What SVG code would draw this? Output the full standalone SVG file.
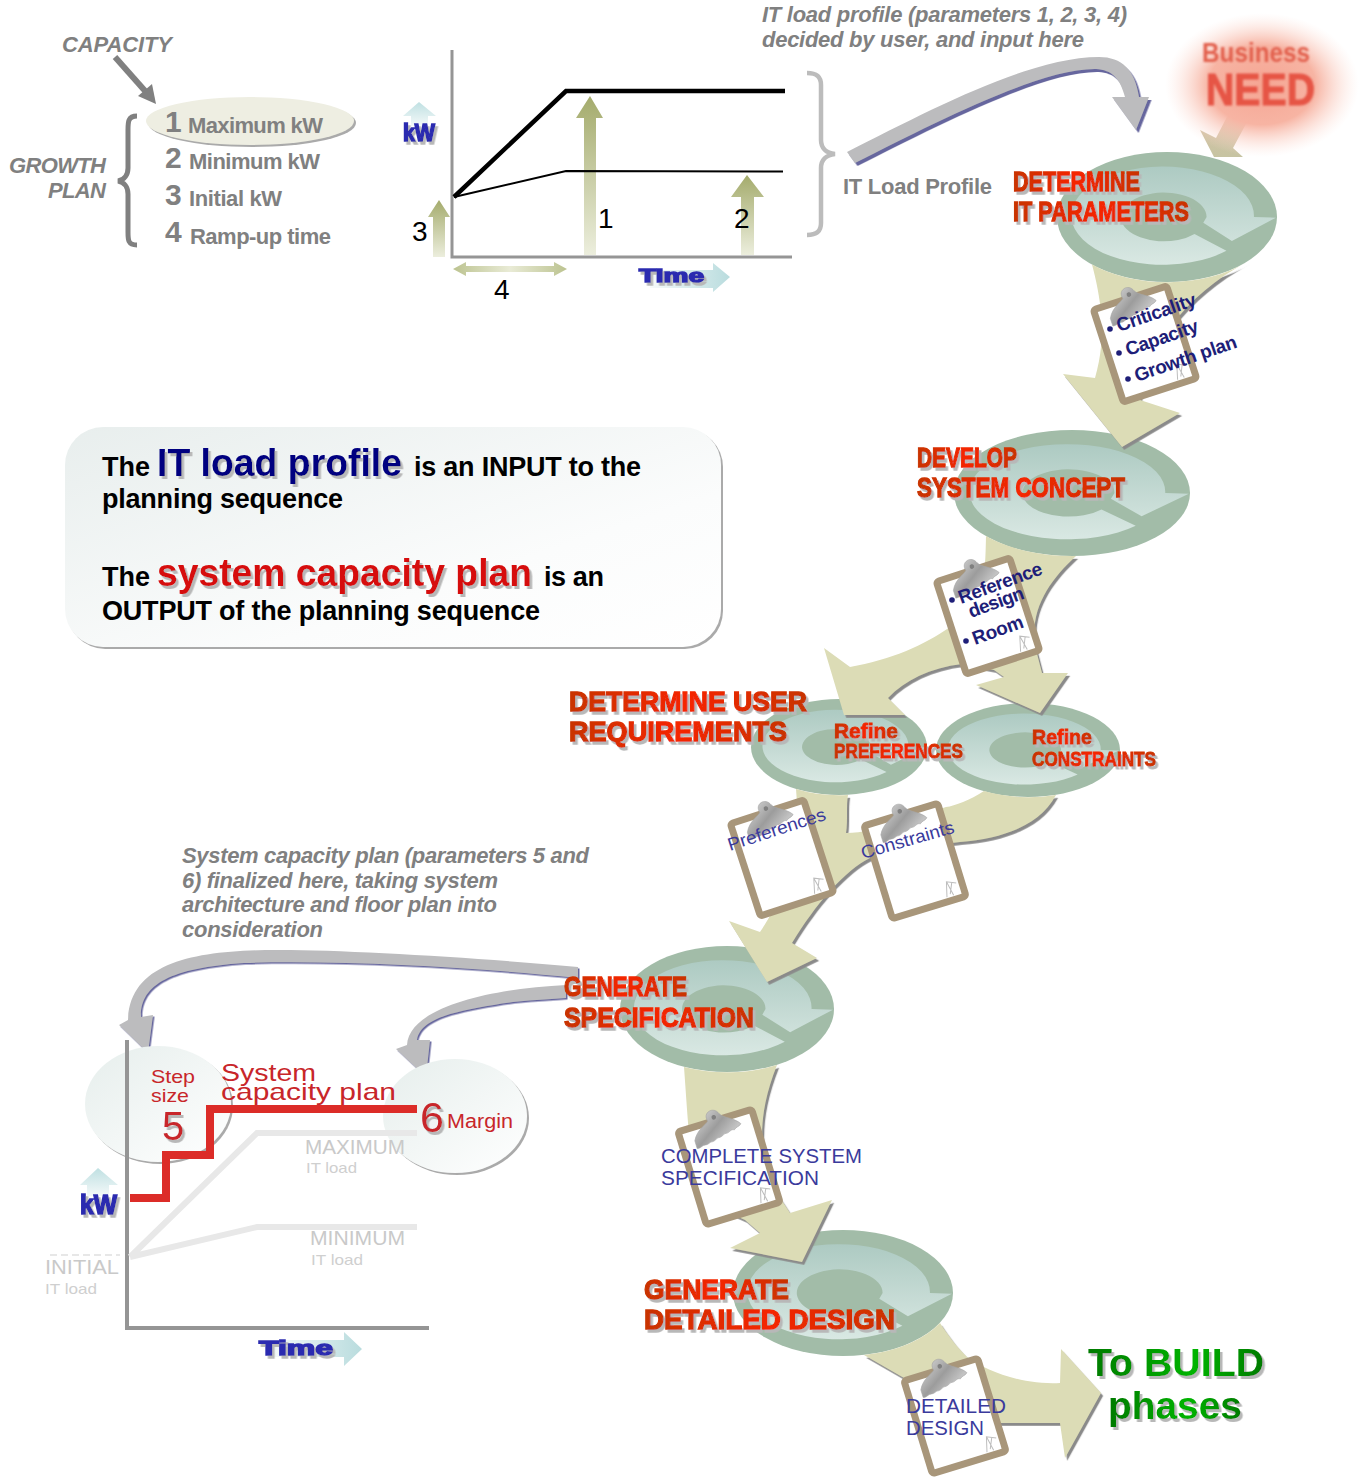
<svg xmlns="http://www.w3.org/2000/svg" width="1361" height="1477" viewBox="0 0 1361 1477">
<style>
text{font-family:"Liberation Sans",Arial,sans-serif}
.gi{font-weight:bold;font-style:italic;fill:#808080;font-size:22px}
.g{font-weight:bold;fill:#808080;font-size:22px}
.n{font-weight:bold;fill:#808080;font-size:30px}
.h{font-weight:bold;fill:url(#redT);stroke:url(#redT);stroke-width:1.300;font-size:28px;filter:url(#ts)}
.hs{font-size:19.500px;stroke-width:.9}
.nb{font-weight:bold;fill:#1e1e78;font-size:19px}
.bl{fill:#3a3a9c;font-size:20px}
.blk{font-weight:bold;fill:#000;font-size:27px}
.red{fill:#c8262a}
.lg{fill:#c9c9c9;font-size:21px}
.lgs{fill:#cfcfcf;font-size:15px}
.tan{fill:#dcdcb6;filter:url(#as)}
.gr{fill:#bcbcbe;filter:url(#bs)}
.heavy{font-weight:bold;fill:#2c2cb0;stroke:#2c2cb0;stroke-width:1.500;filter:url(#ts)}
</style>
<defs>
<linearGradient id="redT" x1="0" x2="1" y1="0" y2="0"><stop offset="0" stop-color="#c83400"/><stop offset=".5" stop-color="#f52500"/><stop offset="1" stop-color="#c83400"/></linearGradient>
<linearGradient id="ring" x1="0" x2="0" y1="0" y2="1"><stop offset="0" stop-color="#adcac2"/><stop offset="1" stop-color="#d9e8e3"/></linearGradient>
<linearGradient id="olive" x1="0" x2="0" y1="0" y2="1"><stop offset="0" stop-color="#a4ab6c"/><stop offset="1" stop-color="#eceedd"/></linearGradient>
<linearGradient id="olh" x1="0" x2="1" y1="0" y2="0"><stop offset="0" stop-color="#bcc390"/><stop offset=".5" stop-color="#e9ebd6"/><stop offset="1" stop-color="#bcc390"/></linearGradient>
<linearGradient id="cy" x1="0" x2="0" y1="0" y2="1"><stop offset="0" stop-color="#bfe0e2"/><stop offset="1" stop-color="#f4f9f9"/></linearGradient>
<linearGradient id="cyh" x1="0" x2="1" y1="0" y2="0"><stop offset="0" stop-color="#f6fafa"/><stop offset="1" stop-color="#b9dcde"/></linearGradient>
<linearGradient id="box" x1="0" x2="1" y1="0" y2="1"><stop offset="0" stop-color="#e8eeed"/><stop offset=".65" stop-color="#fbfcfc"/><stop offset="1" stop-color="#ffffff"/></linearGradient>
<linearGradient id="pale" x1="0" x2="1" y1="0" y2="1"><stop offset="0" stop-color="#e6eeec"/><stop offset="1" stop-color="#ffffff"/></linearGradient>
<linearGradient id="silver" x1="0" x2="1" y1="0" y2="1"><stop offset="0" stop-color="#e2e2e2"/><stop offset=".5" stop-color="#9c9c9c"/><stop offset="1" stop-color="#dedede"/></linearGradient>
<linearGradient id="grn" x1="0" x2="1" y1="0" y2="0"><stop offset="0" stop-color="#007a00"/><stop offset=".6" stop-color="#00b400"/><stop offset="1" stop-color="#007a00"/></linearGradient>
<linearGradient id="need" x1="0" x2="0" y1="0" y2="1"><stop offset="0" stop-color="#d9c0a4"/><stop offset="1" stop-color="#c6c4a2"/></linearGradient>
<radialGradient id="glow"><stop offset="0" stop-color="#f5a593"/><stop offset=".55" stop-color="#f7b4a3"/><stop offset="1" stop-color="#fde2da" stop-opacity="0"/></radialGradient>
<filter id="ts" x="-10%" y="-20%" width="125%" height="150%"><feDropShadow dx="2.500" dy="3" stdDeviation=".6" flood-color="#b8b8b8"/></filter>
<filter id="as" x="-5%" y="-5%" width="115%" height="115%"><feDropShadow dx="2.200" dy="2.800" stdDeviation=".3" flood-color="#8a8a8a"/></filter>
<filter id="bs" x="-5%" y="-5%" width="115%" height="115%"><feDropShadow dx="2.500" dy="3" stdDeviation="0" flood-color="#66669e"/></filter>
<filter id="bs2" x="-5%" y="-5%" width="115%" height="115%"><feDropShadow dx="1.500" dy="1.500" stdDeviation="0" flood-color="#66669e"/></filter>
<filter id="es" x="-5%" y="-5%" width="115%" height="115%"><feDropShadow dx="2" dy="2" stdDeviation=".5" flood-color="#aaaaaa"/></filter>
<filter id="blur1" x="-30%" y="-30%" width="160%" height="160%"><feGaussianBlur stdDeviation="1.300"/></filter>
<g id="cycle">
<ellipse rx="100" ry="100" fill="#a2bca8"/>
<path d="M54 52A83 75.5 0 1 1 79 0L99 1L59 37L33 9L36 0A39 37.5 0 1 0 25 26Z" fill="url(#ring)"/>
</g>
<g id="board">
<rect x="-42" y="-52" width="84" height="104" rx="6" fill="#a8967a"/>
<rect x="-35" y="-45" width="70" height="90" fill="#fff"/>
<path d="M20 44L24 29L33 33M24 29L27 44M29 31L24 42" fill="none" stroke="#bdbdbd" stroke-width="1"/>
<path d="M-25-35C-20-45-10-47-7-50C-10-60 3-63 6-54C9-48 19-46 24-38C21-35 19-37 16-34C13-36 11-33 8-33C5-34 3-31 0-31C-3-32-5-29-8-29C-11-30-13-27-16-28C-19-29-21-26-25-27Z" fill="url(#silver)" stroke="#a5a5a5" stroke-width=".6"/>
<circle cx="0" cy="-52" r="2.300" fill="#808080"/>
</g>
</defs>
<rect width="1361" height="1477" fill="#fff"/>

<g id="cycle-determine-it"><use href="#cycle" transform="translate(1167 217) scale(1.1 .65)"/></g>
<g id="cycle-system-concept"><use href="#cycle" transform="translate(1072 493) scale(1.18 .63)"/></g>
<g id="cycle-preferences"><use href="#cycle" transform="translate(839 747) scale(.88 .48)"/></g>
<g id="cycle-constraints"><use href="#cycle" transform="translate(1028 750) scale(.92 .47)"/></g>
<g id="cycle-specification"><use href="#cycle" transform="translate(727 1009) scale(1.07 .63)"/></g>
<g id="cycle-detailed-design"><use href="#cycle" transform="translate(843 1293) scale(1.1 .63)"/></g>

<g id="connectors">
<path d="M1229 113L1247 122L1233 148L1243 157L1214 157L1200 130L1216 138Z" fill="url(#need)"/>
<path class="tan" d="M1092 264.500C1100 295 1108 335 1095 378L1063 374L1122 447L1180 413L1140 400C1145 350 1185 295 1247 262A110 65 0 0 1 1092 264.500Z"/>
<path class="tan" d="M986 536C985 580 985 600 950 627C925 645 890 660 850 667L824 648L844 715L905 715L888 698C905 680 930 668 962 664L994 670L1004 677L976 685L1040 713L1068 673L1042 673L1036 650C1028 610 1050 580 1076 556A118 63 0 0 1 986 536Z"/>
<path class="tan" d="M796 789C800 830 790 890 760 932L729 921L767 982L817 958L792 943C815 905 845 870 870 858C900 845 940 845 960 842C1005 838 1040 825 1056 795A92 47 0 0 1 984 791C970 800 955 806 946 807C905 820 880 832 846 833C848 820 846 805 848 795A88 48 0 0 1 796 789Z"/>
<path class="tan" d="M684 1067C688 1120 690 1170 700 1200L745 1220L760 1233L730 1248L802 1262L832 1200L790 1213L775 1190C760 1160 755 1120 777 1065A107 63 0 0 1 684 1067Z"/>
<path class="tan" d="M864 1355L904 1378L950 1423L1060 1423L1065 1458L1101 1393L1061 1349L1060 1383C1020 1385 985 1370 967 1357C955 1345 948 1335 940 1323A110 63 0 0 1 864 1355Z"/>
<path class="gr" d="M847 152C930 110 1030 57 1099 57C1122 57 1135 70 1139 97L1149 97L1136 130L1112 97L1125 97C1120 78 1112 70 1096 69C1040 68 930 125 855 163Z"/>
<path class="gr" style="filter:url(#bs2)" d="M578 967C480 958 350 950 280 950C200 950 130 960 128 1020L119 1025L148 1053L153 1015L141 1017C140 985 170 968 244 963C350 960 480 968 578 978Z"/>
<path class="gr" style="filter:url(#bs2)" d="M566 985C500 988 409 1005 407 1045L396 1049L426 1077L430 1040L417 1040C420 1020 450 1012 494 1005C520 1000 545 1000 566 998Z"/>
</g>

<g id="business-need">
<ellipse cx="1262" cy="85" rx="97" ry="72" fill="url(#glow)"/>
<g filter="url(#blur1)">
<text x="1202" y="62" font-size="28" font-weight="bold" fill="#e2604e" textLength="108" lengthAdjust="spacingAndGlyphs">Business</text>
<text x="1206" y="105" font-size="44" font-weight="bold" fill="#e65445" stroke="#e65445" textLength="109" lengthAdjust="spacingAndGlyphs">NEED</text>
</g>
</g>

<g id="capacity-list">
<text class="gi" x="62" y="52" textLength="110">CAPACITY</text>
<path d="M115 57L146 92" stroke="#808080" stroke-width="6" fill="none"/>
<path d="M156 104L138 96L152 84Z" fill="#808080"/>
<text class="gi" x="9" y="173" textLength="97">GROWTH</text>
<text class="gi" x="48" y="198" textLength="58">PLAN</text>
<path d="M137 116C128 116 128 122 128 130L128 168C128 175 124 180 118 181C124 182 128 187 128 194L128 232C128 240 128 245 137 245" fill="none" stroke="#808080" stroke-width="5"/>
<ellipse cx="250" cy="121" rx="104" ry="24" fill="#eeeee2" filter="url(#es)"/>
<text class="n" x="165" y="132">1</text><text class="g" x="188" y="133" textLength="135">Maximum kW</text>
<text class="n" x="165" y="168">2</text><text class="g" x="189" y="169" textLength="131">Minimum kW</text>
<text class="n" x="165" y="205">3</text><text class="g" x="189" y="206" textLength="93">Initial kW</text>
<text class="n" x="165" y="242">4</text><text class="g" x="190" y="244" textLength="141">Ramp-up time</text>
</g>

<g id="load-profile-chart">
<path d="M419 102L436 116L428 116L428 126L411 126L411 116L403 116Z" fill="url(#cy)"/>
<text class="heavy" x="403" y="141" font-size="23" textLength="32" lengthAdjust="spacingAndGlyphs">kW</text>
<path d="M452 50L452 257L792 257" fill="none" stroke="#959595" stroke-width="3"/>
<path d="M590 96L603 118L596 118L596 255L584 255L584 118L576 118Z" fill="url(#olive)"/>
<path d="M747 175L764 197L754 197L754 255L741 255L741 197L731 197Z" fill="url(#olive)"/>
<path d="M439 200L450 217L445 217L445 257L433 257L433 217L428 217Z" fill="url(#olive)"/>
<path d="M454 197L566 91L785 91" fill="none" stroke="#000" stroke-width="4.500"/>
<path d="M454 197L566 171L783 171.500" fill="none" stroke="#000" stroke-width="2"/>
<path d="M453 269L466 262L466 266L554 266L554 262L567 269L554 276L554 272L466 272L466 276Z" fill="url(#olh)"/>
<text x="598" y="228" font-size="28">1</text>
<text x="734" y="228" font-size="28">2</text>
<text x="412" y="241" font-size="28">3</text>
<text x="494" y="299" font-size="28">4</text>
<path d="M650 270L713 270L713 263L730 277L713 292L713 288L650 288Z" fill="url(#cyh)"/>
<text class="heavy" x="639" y="282" font-size="19" textLength="65" lengthAdjust="spacingAndGlyphs">Time</text>
</g>

<g id="load-profile-label">
<text class="gi" x="762" y="22" textLength="365">IT load profile (parameters 1, 2, 3, 4)</text>
<text class="gi" x="762" y="47" textLength="322">decided by user, and input here</text>
<path d="M807 73C817 73 821 77 821 85L821 140C821 148 826 153 835 154C826 155 821 160 821 168L821 223C821 231 817 235 807 235" fill="none" stroke="#bcbcbc" stroke-width="4.500"/>
<text class="g" x="843" y="194" textLength="149">IT Load Profile</text>
</g>

<g id="info-box">
<rect x="65" y="427" width="656" height="220" rx="38" fill="url(#box)" filter="url(#es)"/>
<text class="blk" x="102" y="476">The</text>
<text x="157" y="476" font-size="38" font-weight="bold" fill="#000080" textLength="245" lengthAdjust="spacingAndGlyphs" filter="url(#ts)">IT load profile</text>
<text class="blk" x="414" y="476" textLength="227">is an INPUT to the</text>
<text class="blk" x="102" y="508" textLength="241">planning sequence</text>
<text class="blk" x="102" y="586">The</text>
<text x="157" y="586" font-size="38" font-weight="bold" fill="#d60a0a" textLength="375" lengthAdjust="spacingAndGlyphs" filter="url(#ts)">system capacity plan</text>
<text class="blk" x="544" y="586" textLength="60">is an</text>
<text class="blk" x="102" y="620" textLength="438">OUTPUT of the planning sequence</text>
</g>

<g id="board-it"><use href="#board" transform="translate(1145 344) rotate(-18)"/>
<circle cx="1110" cy="329" r="2.800" fill="#1e1e78"/><circle cx="1119" cy="353" r="2.800" fill="#1e1e78"/><circle cx="1128" cy="379" r="2.800" fill="#1e1e78"/>
<text class="nb" transform="translate(1119 332) rotate(-19)" textLength="83">Criticality</text>
<text class="nb" transform="translate(1128 356) rotate(-19)" textLength="76">Capacity</text>
<text class="nb" transform="translate(1137 382) rotate(-19)" textLength="107">Growth plan</text>
</g>

<g id="board-concept"><use href="#board" transform="translate(988 616) rotate(-18)"/>
<circle cx="952" cy="600" r="2.800" fill="#1e1e78"/><circle cx="966" cy="641" r="2.800" fill="#1e1e78"/>
<text class="nb" transform="translate(961 604) rotate(-20)" textLength="88">Reference</text>
<text class="nb" transform="translate(971 618) rotate(-20)" textLength="58">design</text>
<text class="nb" transform="translate(975 645) rotate(-20)" textLength="53">Room</text>
</g>

<g id="board-preferences"><use href="#board" transform="translate(782 858) rotate(-18)"/>
<text class="bl" style="font-size:18px" transform="translate(730 851) rotate(-18)" textLength="102" lengthAdjust="spacingAndGlyphs">Preferences</text>
</g>
<g id="board-constraints"><use href="#board" transform="translate(915 861) rotate(-17)"/>
<text class="bl" style="font-size:18px" transform="translate(863 859) rotate(-16)" textLength="96" lengthAdjust="spacingAndGlyphs">Constraints</text>
</g>
<g id="board-system-spec"><use href="#board" transform="translate(729 1167) rotate(-17)"/>
<text class="bl" x="661" y="1163" textLength="201" lengthAdjust="spacingAndGlyphs">COMPLETE SYSTEM</text>
<text class="bl" x="661" y="1185" textLength="158" lengthAdjust="spacingAndGlyphs">SPECIFICATION</text>
</g>
<g id="board-detailed"><use href="#board" transform="translate(955 1416) rotate(-17)"/>
<text class="bl" x="906" y="1413" textLength="100" lengthAdjust="spacingAndGlyphs">DETAILED</text>
<text class="bl" x="906" y="1435" textLength="78" lengthAdjust="spacingAndGlyphs">DESIGN</text>
</g>

<g id="titles">
<text class="h" x="1013" y="191" textLength="127" lengthAdjust="spacingAndGlyphs">DETERMINE</text>
<text class="h" x="1013" y="221" textLength="176" lengthAdjust="spacingAndGlyphs">IT PARAMETERS</text>
<text class="h" x="917" y="467" textLength="100" lengthAdjust="spacingAndGlyphs">DEVELOP</text>
<text class="h" x="917" y="497" textLength="208" lengthAdjust="spacingAndGlyphs">SYSTEM CONCEPT</text>
<text class="h" x="569" y="711" textLength="238" lengthAdjust="spacingAndGlyphs">DETERMINE USER</text>
<text class="h" x="569" y="741" textLength="218" lengthAdjust="spacingAndGlyphs">REQUIREMENTS</text>
<text class="h hs" x="834" y="738" textLength="64" lengthAdjust="spacingAndGlyphs">Refine</text>
<text class="h hs" x="834" y="758" textLength="129" lengthAdjust="spacingAndGlyphs">PREFERENCES</text>
<text class="h hs" x="1032" y="744" textLength="60" lengthAdjust="spacingAndGlyphs">Refine</text>
<text class="h hs" x="1032" y="766" textLength="124" lengthAdjust="spacingAndGlyphs">CONSTRAINTS</text>
<text class="h" x="564" y="996" textLength="123" lengthAdjust="spacingAndGlyphs">GENERATE</text>
<text class="h" x="564" y="1027" textLength="190" lengthAdjust="spacingAndGlyphs">SPECIFICATION</text>
<text class="h" x="644" y="1299" textLength="145" lengthAdjust="spacingAndGlyphs">GENERATE</text>
<text class="h" x="644" y="1329" textLength="251" lengthAdjust="spacingAndGlyphs">DETAILED DESIGN</text>
</g>

<g id="to-build">
<text x="1088" y="1376" font-size="38" font-weight="bold" fill="url(#grn)" filter="url(#ts)" textLength="176" lengthAdjust="spacingAndGlyphs">To BUILD</text>
<text x="1108" y="1419" font-size="38" font-weight="bold" fill="url(#grn)" filter="url(#ts)" textLength="134" lengthAdjust="spacingAndGlyphs">phases</text>
</g>

<g id="capacity-note">
<text class="gi" x="182" y="863" textLength="407">System capacity plan (parameters 5 and</text>
<text class="gi" x="182" y="888" textLength="316">6) finalized here, taking system</text>
<text class="gi" x="182" y="912" textLength="315">architecture and floor plan into</text>
<text class="gi" x="182" y="937" textLength="141">consideration</text>
</g>

<g id="capacity-chart">
<ellipse cx="158" cy="1104" rx="73" ry="58" fill="url(#pale)" filter="url(#es)"/>
<ellipse cx="455" cy="1116" rx="72" ry="57" fill="url(#pale)" filter="url(#es)"/>
<path d="M127 1040L127 1328L429 1328" fill="none" stroke="#959595" stroke-width="4"/>
<path d="M130 1257L257 1133L417 1133M130 1257L257 1227L417 1227" fill="none" stroke="#e8e8e8" stroke-width="6"/>
<path d="M50 1255L120 1255" stroke="#e0e0e0" stroke-width="1.500" stroke-dasharray="7 4"/>
<path d="M130 1198L166 1198L166 1155L210 1155L210 1109L417 1109" fill="none" stroke="#dc2c28" stroke-width="8"/>
<text class="red" x="151" y="1083" font-size="19" textLength="44" lengthAdjust="spacingAndGlyphs">Step</text>
<text class="red" x="151" y="1102" font-size="19" textLength="38" lengthAdjust="spacingAndGlyphs">size</text>
<text class="red" x="162" y="1140" font-size="40" filter="url(#ts)">5</text>
<text class="red" x="221" y="1081" font-size="24" textLength="95" lengthAdjust="spacingAndGlyphs">System</text>
<text class="red" x="221" y="1100" font-size="24" textLength="175" lengthAdjust="spacingAndGlyphs">capacity plan</text>
<text class="red" x="420" y="1132" font-size="43" filter="url(#ts)">6</text>
<text class="red" x="447" y="1128" font-size="20" textLength="66" lengthAdjust="spacingAndGlyphs">Margin</text>
<text class="lg" x="305" y="1154" textLength="100" lengthAdjust="spacingAndGlyphs">MAXIMUM</text>
<text class="lgs" x="306" y="1173" textLength="51" lengthAdjust="spacingAndGlyphs">IT load</text>
<text class="lg" x="310" y="1245" textLength="95" lengthAdjust="spacingAndGlyphs">MINIMUM</text>
<text class="lgs" x="311" y="1265" textLength="52" lengthAdjust="spacingAndGlyphs">IT load</text>
<text class="lg" x="45" y="1274" textLength="74" lengthAdjust="spacingAndGlyphs">INITIAL</text>
<text class="lgs" x="45" y="1294" textLength="52" lengthAdjust="spacingAndGlyphs">IT load</text>
<path d="M98 1168L118 1185L109 1185L109 1196L87 1196L87 1185L80 1185Z" fill="url(#cy)"/>
<text class="heavy" x="80" y="1214" font-size="27" textLength="37" lengthAdjust="spacingAndGlyphs">kW</text>
<path d="M270 1340L344 1340L344 1332L362 1349L344 1366L344 1357L270 1357Z" fill="url(#cyh)"/>
<text class="heavy" x="259" y="1355" font-size="21" textLength="74" lengthAdjust="spacingAndGlyphs">Time</text>
</g>
</svg>
